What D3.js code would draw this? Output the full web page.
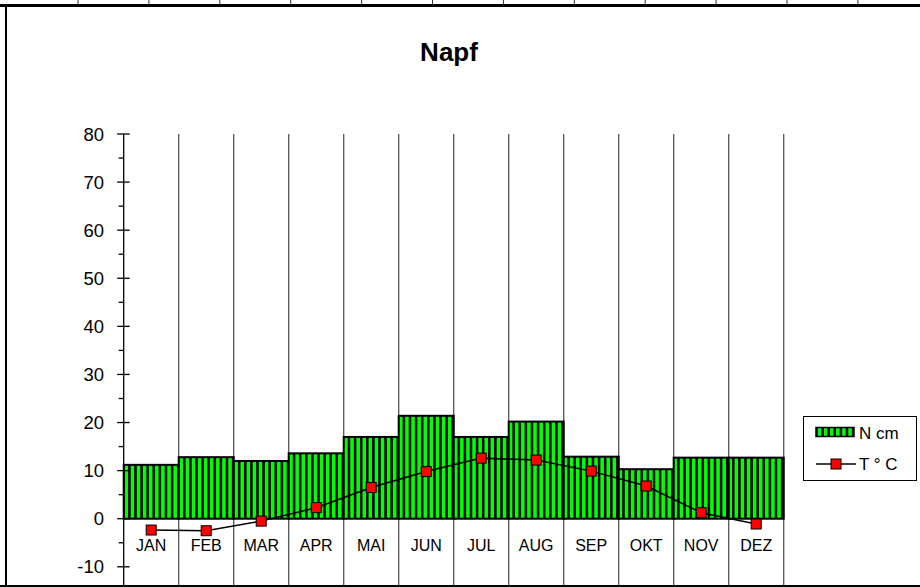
<!DOCTYPE html>
<html>
<head>
<meta charset="utf-8">
<script src="https://cdn.jsdelivr.net/npm/d3@7"></script>
<style>
  body { margin: 0; background: #fff; }
  text { font-family: "Liberation Sans", Arial, sans-serif; fill: #000; }
</style>
</head>
<body>
<script>
// donnees Napf
var months = ["JAN", "FEB", "MAR", "APR", "MAI", "JUN", "JUL", "AUG", "SEP", "OKT", "NOV", "DEZ"];
var precip = [11.2, 12.8, 12.0, 13.6, 17.0, 21.4, 17.0, 20.2, 12.9, 10.3, 12.7, 12.7];
var temp = [-2.35, -2.5, -0.5, 2.3, 6.5, 9.8, 12.6, 12.2, 9.9, 6.8, 1.25, -1.1];
var yTicks = [-10, 0, 10, 20, 30, 40, 50, 60, 70, 80];
var yMinor = [-15, -5, 5, 15, 25, 35, 45, 55, 65, 75];

var width = 920;
var height = 587;
var plotLeft = 123.7, plotRight = 783.7, plotTop = 134;
var pxPerUnit = 4.809;

var svg = d3.select("body").append("svg")
	.attr("width", width)
	.attr("height", height);

// pattern rayures verticales
var pat = svg.append("defs").append("pattern")
	.attr("id", "stripes")
	.attr("patternUnits", "userSpaceOnUse")
	.attr("width", 6.1)
	.attr("height", 10);
pat.append("rect").attr("width", 6.1).attr("height", 10).attr("fill", "#00ff00");
pat.append("rect").attr("x", 0).attr("width", 2.5).attr("height", 10).attr("fill", "#000");

var x = d3.scaleBand()
	.domain(months)
	.range([plotLeft, plotRight])
	.padding(0);

var y = d3.scaleLinear()
	.domain([-20, 80])
	.range([plotTop + 100 * pxPerUnit, plotTop]);

// cadre de la feuille
var cellX = d3.range(12).map(function(i) { return 78 + i * 70.9; });
svg.selectAll(".cell").data(cellX).enter().append("line")
	.attr("x1", function(d) { return d; })
	.attr("x2", function(d) { return d; })
	.attr("y1", 0).attr("y2", 5)
	.attr("stroke", "#333").attr("stroke-width", 1);
svg.append("line")
	.attr("x1", 0).attr("x2", width)
	.attr("y1", 5.5).attr("y2", 5.5)
	.attr("stroke", "#000").attr("stroke-width", 3);
svg.append("line")
	.attr("x1", 6).attr("x2", 6)
	.attr("y1", 5).attr("y2", height)
	.attr("stroke", "#000").attr("stroke-width", 2);
svg.append("line")
	.attr("x1", 0).attr("x2", width)
	.attr("y1", 586).attr("y2", 586)
	.attr("stroke", "#000").attr("stroke-width", 2);

// titre
svg.append("text")
	.attr("x", 449)
	.attr("y", 61)
	.attr("text-anchor", "middle")
	.attr("font-size", 26)
	.attr("font-weight", "bold")
	.text("Napf");

// lignes verticales de la grille
var bounds = months.map(function(m) { return x(m) + x.bandwidth(); });
svg.selectAll(".vgrid").data(bounds).enter().append("line")
	.attr("x1", function(d) { return d; })
	.attr("x2", function(d) { return d; })
	.attr("y1", y(80))
	.attr("y2", 585)
	.attr("stroke", "#555")
	.attr("stroke-width", 1.3);

// barres precipitations
svg.selectAll(".bar").data(precip).enter().append("rect")
	.attr("x", function(d, i) { return x(months[i]); })
	.attr("y", function(d) { return y(d); })
	.attr("width", x.bandwidth())
	.attr("height", function(d) { return y(0) - y(d); })
	.attr("fill", "url(#stripes)")
	.attr("stroke", "#000")
	.attr("stroke-width", 2);

// axe y
var yAxis = svg.append("g");
yAxis.append("line")
	.attr("x1", plotLeft).attr("x2", plotLeft)
	.attr("y1", y(80)).attr("y2", 585)
	.attr("stroke", "#000").attr("stroke-width", 1.3);
yAxis.selectAll(".maj").data(yTicks).enter().append("line")
	.attr("x1", plotLeft - 6.5).attr("x2", plotLeft + 6)
	.attr("y1", function(d) { return y(d); })
	.attr("y2", function(d) { return y(d); })
	.attr("stroke", "#000").attr("stroke-width", 1.3);
yAxis.selectAll(".min").data(yMinor).enter().append("line")
	.attr("x1", plotLeft - 5).attr("x2", plotLeft)
	.attr("y1", function(d) { return y(d); })
	.attr("y2", function(d) { return y(d); })
	.attr("stroke", "#000").attr("stroke-width", 1.3);
yAxis.selectAll(".lab").data(yTicks).enter().append("text")
	.attr("x", 104)
	.attr("y", function(d) { return y(d); })
	.attr("dy", "0.36em")
	.attr("text-anchor", "end")
	.attr("font-size", 18.5)
	.text(function(d) { return d; });

// etiquettes des mois
svg.selectAll(".mlab").data(months).enter().append("text")
	.attr("x", function(d) { return x(d) + x.bandwidth() / 2; })
	.attr("y", y(-5.5))
	.attr("dy", "0.36em")
	.attr("text-anchor", "middle")
	.attr("font-size", 16)
	.text(function(d) { return d; });

// temperature
var line = d3.line()
	.x(function(d, i) { return x(months[i]) + x.bandwidth() / 2; })
	.y(function(d) { return y(d); });
svg.append("path")
	.datum(temp)
	.attr("d", line)
	.attr("fill", "none")
	.attr("stroke", "#000")
	.attr("stroke-width", 1.5);
svg.selectAll(".pt").data(temp).enter().append("rect")
	.attr("x", function(d, i) { return x(months[i]) + x.bandwidth() / 2 - 5; })
	.attr("y", function(d) { return y(d) - 5; })
	.attr("width", 10)
	.attr("height", 10)
	.attr("fill", "#ff0000")
	.attr("stroke", "#000")
	.attr("stroke-width", 1);

// legende
var legend = svg.append("g").attr("transform", "translate(803,416)");
legend.append("rect")
	.attr("x", 0.5).attr("y", 0.5)
	.attr("width", 113).attr("height", 64)
	.attr("fill", "#fff")
	.attr("stroke", "#000")
	.attr("stroke-width", 1);
legend.append("rect")
	.attr("x", 13).attr("y", 11.5)
	.attr("width", 38).attr("height", 9)
	.attr("fill", "url(#stripes)")
	.attr("stroke", "#000")
	.attr("stroke-width", 1.5);
legend.append("text")
	.attr("x", 56).attr("y", 17)
	.attr("dy", "0.36em")
	.attr("font-size", 17)
	.text("N cm");
legend.append("line")
	.attr("x1", 13).attr("x2", 53)
	.attr("y1", 48).attr("y2", 48)
	.attr("stroke", "#000").attr("stroke-width", 1.5);
legend.append("rect")
	.attr("x", 28).attr("y", 43)
	.attr("width", 10).attr("height", 10)
	.attr("fill", "#ff0000")
	.attr("stroke", "#000")
	.attr("stroke-width", 1);
legend.append("text")
	.attr("x", 56).attr("y", 48)
	.attr("dy", "0.36em")
	.attr("font-size", 17)
	.text("T ° C");
</script>
</body>
</html>
